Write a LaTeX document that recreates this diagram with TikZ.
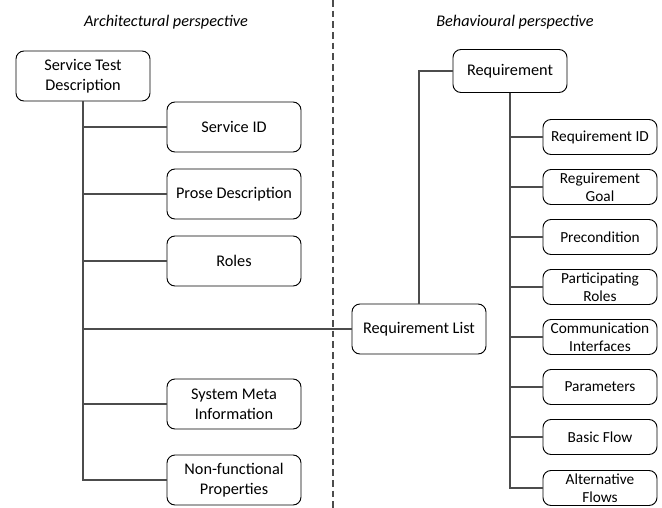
\documentclass[tikz,border=0pt]{standalone}
\usepackage{fontspec}
\setmainfont{Carlito}
\usetikzlibrary{positioning}

\begin{document}
\begin{tikzpicture}[x=0.75pt, y=-0.75pt, font=\fontsize{12.2}{14.8}\selectfont,
    box/.style={draw, line width=0.7pt, rounded corners=6pt, align=center,
                minimum width=100.5pt, minimum height=37.5pt, inner sep=1pt},
    small/.style={box, minimum width=85.5pt, minimum height=26.25pt,
                  font=\fontsize{11.5}{13.4}\selectfont},
    link/.style={draw=black!70, line width=0.9pt}]

\useasboundingbox (0,0) rectangle (662,508);

% Headings and separator
\node (archtitle) at (166,22) {\itshape Architectural perspective};
\node (behtitle)  at (515,22) {\itshape Behavioural perspective};
\draw[black!70, line width=0.8pt, dash pattern=on 5pt off 3pt] (333,0) -- (333,508);

% Architectural side
\node[box] (std) at (83,76) {Service Test\\Description};
\foreach \name/\y/\txt in {sid/127/Service ID, prose/194/Prose Description, roles/261/Roles,
                           meta/404/System Meta\\Information, nonfun/480/Non-functional\\Properties} {
    \node[box] (\name) at (234,\y) {\txt};
    \draw[link] (std.south) |- (\name.west);
}

% Behavioural side
\node[box] (rlist) at (419,329) {Requirement List};
\node[box, minimum width=85.5pt, minimum height=32.25pt] (req) at (510,71) {Requirement};
\draw[link] (std.south) |- (rlist.west);
\draw[link] (req.west) -| (rlist.north);

\foreach \name/\y/\txt in {rid/137/Requirement ID, rgoal/187/Reguirement\\Goal, pre/237/Precondition,
                           proles/287/Participating\\Roles, comm/337/Communication\\Interfaces,
                           params/387/Parameters, basic/437/Basic Flow, alt/488/Alternative\\Flows} {
    \node[small] (\name) at (600,\y) {\txt};
    \draw[link] (req.south) |- (\name.west);
}
\end{tikzpicture}
\end{document}
